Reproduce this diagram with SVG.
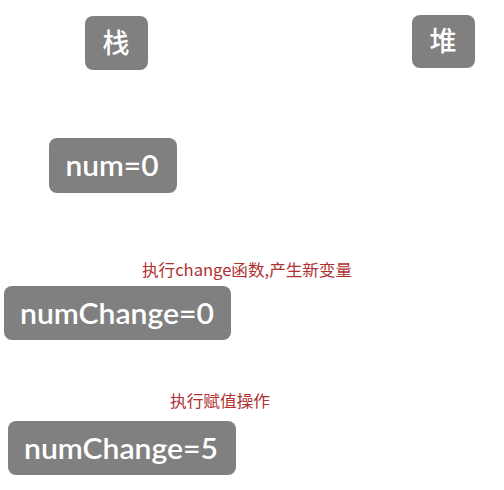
<svg xmlns="http://www.w3.org/2000/svg" width="504" height="490" viewBox="0 0 504 490">
<style>
.box{fill:#808080;}
.cj{font-family:"Noto Sans CJK SC","Noto Sans",sans-serif;font-size:27px;font-weight:500;fill:#fff;text-anchor:middle;}
.v{font-family:Lato,"Open Sans",sans-serif;font-size:28px;font-weight:600;fill:#fff;text-anchor:middle;}
.lbl{font-family:"Noto Sans CJK SC","Noto Sans",sans-serif;font-size:16px;fill:#b03030;}
</style>
<rect width="504" height="490" fill="#fff"/>
<g id="stack"><rect class="box" x="85" y="16" width="63" height="54" rx="8"/><text class="cj" x="116" y="53">栈</text></g>
<g id="heap"><rect class="box" x="412" y="15" width="63" height="53" rx="8"/><text class="cj" x="443" y="51">堆</text></g>
<g id="num"><rect class="box" x="49" y="138" width="128" height="55" rx="8"/><text class="v" x="112" y="176" textLength="93" lengthAdjust="spacingAndGlyphs">num=0</text></g>
<g id="numChange0"><rect class="box" x="4" y="286" width="227" height="54" rx="8"/><text class="v" x="117" y="324" textLength="194" lengthAdjust="spacingAndGlyphs">numChange=0</text></g>
<g id="numChange5"><rect class="box" x="8" y="421" width="228" height="54" rx="8"/><text class="v" x="121" y="459" textLength="194" lengthAdjust="spacingAndGlyphs">numChange=5</text></g>
<g id="connectors"></g>
<text class="lbl" x="142" y="276" textLength="210" lengthAdjust="spacingAndGlyphs">执行change函数,产生新变量</text>
<text class="lbl" x="170" y="407" textLength="100" lengthAdjust="spacingAndGlyphs">执行赋值操作</text>
</svg>
